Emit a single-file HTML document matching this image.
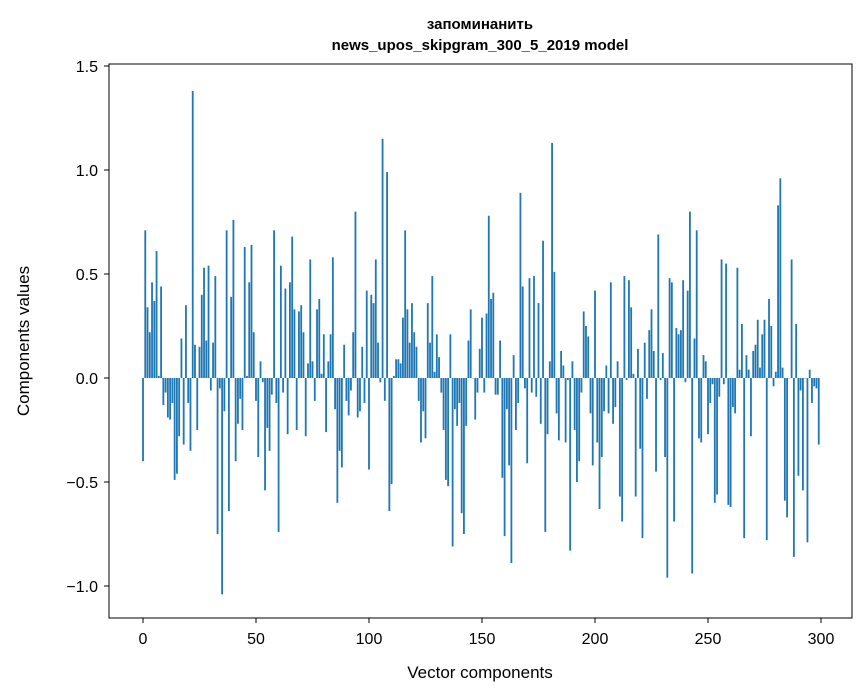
<!DOCTYPE html>
<html><head><meta charset="utf-8"><style>
body{margin:0;background:#fff;}
svg{display:block;font-family:"Liberation Sans","DejaVu Sans",sans-serif;}
</style></head><body>
<svg id="chart" width="867" height="696">
<rect x="0" y="0" width="867" height="696" fill="#fff"/>
<text x="480" y="29" font-size="15" font-weight="bold" text-anchor="middle">запоминанить</text>
<text x="480" y="50" font-size="15" font-weight="bold" text-anchor="middle">news_upos_skipgram_300_5_2019 model</text>
<g id="bars"></g>
<g id="xticks"></g>
<g id="yticks"></g>
<rect x="109" y="64" width="743" height="554" fill="none" stroke="#000" stroke-width="1"/>
<text x="480" y="678" font-size="17" text-anchor="middle">Vector components</text>
<text x="29" y="341" font-size="17" text-anchor="middle" transform="rotate(-90 29 341)">Components values</text>
</svg>
<script>
const values = [
-0.40,0.71,0.34,0.22,0.46,0.37,0.61,0.01,0.44,-0.13,
-0.07,-0.19,-0.20,-0.12,-0.49,-0.46,-0.28,0.19,-0.32,0.35,
-0.12,-0.35,1.38,0.16,-0.25,0.15,0.40,0.53,0.18,0.54,
-0.06,0.17,0.49,-0.75,-0.05,-1.04,-0.16,0.71,-0.64,0.39,
0.76,-0.40,-0.22,-0.10,-0.25,0.63,0.01,0.46,0.64,0.22,
-0.11,-0.38,0.08,-0.02,-0.54,-0.24,-0.35,-0.08,0.71,-0.12,
-0.74,0.54,-0.07,0.43,-0.27,0.46,0.68,0.33,-0.25,0.32,
0.35,0.22,-0.28,0.07,0.57,0.08,-0.11,0.33,0.38,0.02,
0.21,-0.26,0.08,0.21,0.58,-0.15,-0.60,-0.35,-0.43,0.16,
-0.11,-0.18,-0.06,0.22,0.80,-0.19,-0.16,0.15,-0.12,0.42,
-0.44,0.40,0.36,0.57,0.17,-0.02,1.15,-0.11,0.99,-0.64,
-0.51,0.01,0.09,0.09,0.07,0.29,0.71,0.33,0.17,0.36,
0.22,0.15,-0.11,-0.31,-0.16,-0.29,0.36,0.17,0.49,0.03,
0.21,0.10,-0.07,-0.25,-0.49,-0.52,0.21,-0.81,-0.15,-0.23,
-0.12,-0.65,-0.75,-0.23,0.18,0.33,0.00,-0.20,-0.07,0.14,
0.29,-0.07,0.31,0.78,0.38,0.41,-0.08,-0.08,0.18,-0.48,
-0.76,-0.15,-0.42,-0.89,0.11,-0.25,-0.12,0.89,0.44,-0.05,
-0.41,0.48,-0.07,0.49,-0.09,0.36,-0.22,0.66,-0.74,-0.27,
0.08,1.13,0.51,-0.17,-0.30,0.13,0.06,-0.31,-0.01,-0.83,
0.08,-0.25,-0.50,-0.40,-0.07,0.32,0.25,0.20,-0.17,-0.42,
0.42,-0.31,-0.63,-0.38,-0.16,0.06,-0.17,0.46,-0.22,-0.14,
0.08,-0.57,-0.69,0.49,-0.01,0.47,0.34,0.02,-0.57,0.14,
-0.34,-0.77,0.17,-0.10,0.23,0.33,0.13,-0.45,0.69,-0.01,
0.12,-0.38,-0.96,0.48,0.46,-0.69,0.24,0.21,0.23,0.47,
-0.02,0.42,0.80,-0.94,0.19,0.71,-0.29,-0.31,0.11,0.08,
-0.27,-0.12,-0.03,-0.60,-0.56,-0.09,0.57,-0.03,0.55,-0.61,
-0.62,-0.14,-0.17,0.53,0.04,0.26,-0.77,0.11,0.04,-0.28,
0.13,0.16,0.28,0.05,0.21,0.28,-0.78,0.38,0.25,-0.04,
0.03,0.83,0.96,0.05,-0.59,-0.67,0.00,0.57,-0.86,0.26,
-0.47,-0.06,-0.54,0.00,-0.79,0.04,-0.12,-0.04,-0.05,-0.32
];
const xTickValues = [0,50,100,150,200,250,300];
const yTickValues = [-1.0,-0.5,0.0,0.5,1.0,1.5];
const yTickLabels = ["\u22121.0","\u22120.5","0.0","0.5","1.0","1.5"];

const NS = "http://www.w3.org/2000/svg";
function xScale(i){ return 143 + 2.26 * i; }
function yScale(v){ return 378 - 208 * v; }
const barsG = document.getElementById('bars');
values.forEach(function(v, i){
  const r = document.createElementNS(NS, 'rect');
  const y0 = yScale(0), y1 = yScale(v);
  r.setAttribute('x', xScale(i) - 0.9);
  r.setAttribute('width', 1.81);
  r.setAttribute('y', Math.min(y0, y1));
  r.setAttribute('height', Math.max(Math.abs(y1 - y0), 0.3));
  r.setAttribute('fill', '#1f77b4');
  
  
  barsG.appendChild(r);
});
const xg = document.getElementById('xticks');
xTickValues.forEach(function(t){
  const x = xScale(t);
  const l = document.createElementNS(NS, 'line');
  l.setAttribute('x1', x); l.setAttribute('x2', x);
  l.setAttribute('y1', 618); l.setAttribute('y2', 623);
  l.setAttribute('stroke', '#000');
  
  
  xg.appendChild(l);
  const tx = document.createElementNS(NS, 'text');
  tx.setAttribute('x', x); tx.setAttribute('y', 644);
  tx.setAttribute('font-size', '16');
  tx.setAttribute('text-anchor', 'middle');
  tx.textContent = String(t);
  
  
  xg.appendChild(tx);
});
const yg = document.getElementById('yticks');
yTickValues.forEach(function(t, k){
  const y = yScale(t);
  const l = document.createElementNS(NS, 'line');
  l.setAttribute('x1', 104); l.setAttribute('x2', 109);
  l.setAttribute('y1', y); l.setAttribute('y2', y);
  l.setAttribute('stroke', '#000');
  
  
  yg.appendChild(l);
  const tx = document.createElementNS(NS, 'text');
  tx.setAttribute('x', 98); tx.setAttribute('y', y + 6);
  tx.setAttribute('font-size', '16');
  tx.setAttribute('text-anchor', 'end');
  tx.textContent = yTickLabels[k];
  
  
  yg.appendChild(tx);
});
</script>
</body></html>
